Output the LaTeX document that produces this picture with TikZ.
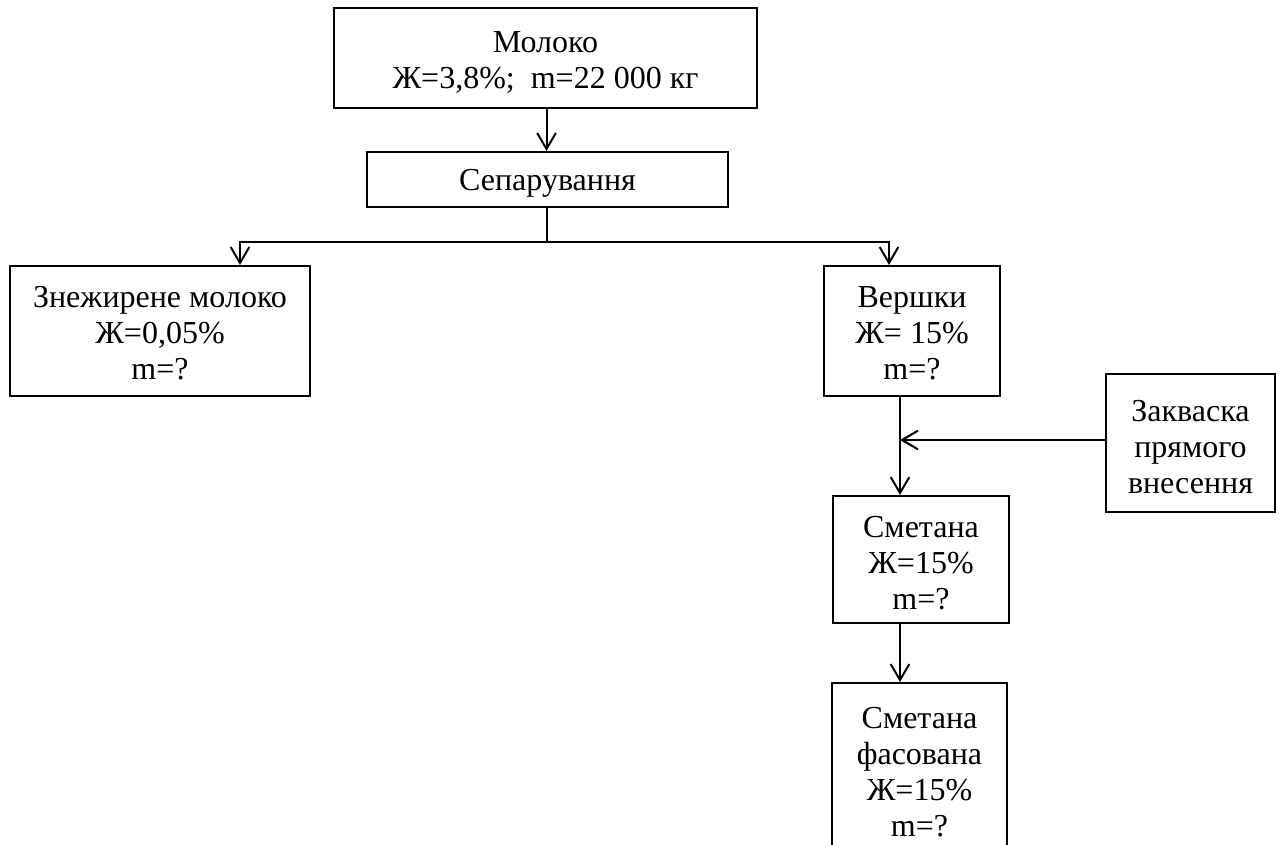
\documentclass[tikz,border=0pt]{standalone}
\usepackage{fontspec}
\setmainfont{Liberation Serif}
\usetikzlibrary{arrows.meta}
\newcommand\flowbox[7]{%
  \node[box,minimum width=#4,minimum height=#5] (#1) at (#2,#3) {};
  \node[txt] (#1-text) at (#2,#3+#6) {#7};}
\begin{document}
\begin{tikzpicture}[x=0.75pt,y=-0.75pt,
  box/.style={draw,line width=1.5pt,inner sep=0pt},
  txt/.style={align=center,inner sep=0pt,font=\fontsize{24}{27}\selectfont},
  conn/.style={line width=1.5pt},
  arr/.style={line width=1.5pt,-{Straight Barb[length=12pt,width=14pt]}}]
\useasboundingbox (0,0) rectangle (1279,844);
\clip (0,0) rectangle (1279,844);
\fill[white] (0,0) rectangle (1279,844);
\flowbox{milk}{545.5}{58}{317.25pt}{75pt}{4.5}{Молоко\\ Ж=3,8\%;\ \ m=22 000 кг}
\flowbox{sep}{547.5}{179.5}{270.75pt}{41.25pt}{4}{Сепарування}
\flowbox{skim}{160}{331}{225pt}{97.5pt}{2.5}{Знежирене молоко\\ Ж=0,05\%\\ m=?}
\flowbox{cream}{912}{331}{132pt}{97.5pt}{2.5}{Вершки\\ Ж= 15\%\\ m=?}
\flowbox{starter}{1190.5}{443}{126.75pt}{103.5pt}{4.5}{Закваска\\ прямого\\ внесення}
\flowbox{sour}{921}{559.5}{132pt}{95.25pt}{3.5}{Сметана\\ Ж=15\%\\ m=?}
\flowbox{pack}{919.5}{771}{131.25pt}{132pt}{1}{Сметана\\ фасована\\ Ж=15\%\\ m=?}
\coordinate (split) at (546.5,242);
\coordinate (sk) at (240,242);
\coordinate (cr) at (889,242);
\coordinate (j) at (900,440);
\draw[arr] (milk.south -| split) -- (split |- sep.north);
\draw[conn] (sep.south -| split) -- (split);
\draw[arr] (split) -- (sk) -- (sk |- skim.north);
\draw[arr] (split) -- (cr) -- (cr |- cream.north);
\draw[conn] (cream.south -| j) -- (j);
\draw[arr] (j) -- (j |- sour.north);
\draw[arr] (j -| starter.west) -- (j);
\draw[arr] (sour.south -| j) -- (j |- pack.north);
\end{tikzpicture}
\end{document}
